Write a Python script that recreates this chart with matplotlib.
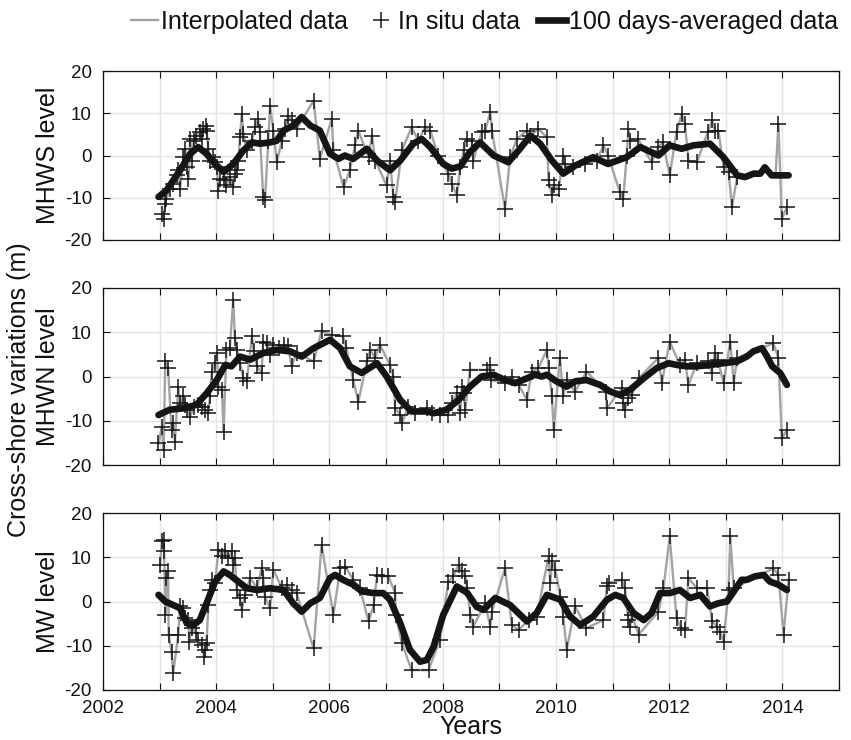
import matplotlib
matplotlib.use('Agg')
import matplotlib.pyplot as plt
from matplotlib.lines import Line2D

plt.rcParams['font.family'] = ['Liberation Sans', 'DejaVu Sans']

# ---------------- MHWS level ----------------
mhws_t = [2003.04, 2003.07, 2003.10, 2003.12, 2003.18, 2003.24, 2003.30, 2003.33, 2003.36, 2003.42,
          2003.45, 2003.48, 2003.51, 2003.54, 2003.57, 2003.60, 2003.65, 2003.71, 2003.74, 2003.77,
          2003.82, 2003.83, 2003.86, 2003.89, 2003.95, 2003.98, 2004.01, 2004.04, 2004.07, 2004.13,
          2004.18, 2004.24, 2004.30, 2004.33, 2004.36, 2004.39, 2004.42, 2004.45, 2004.48, 2004.54,
          2004.63, 2004.69, 2004.74, 2004.77, 2004.83, 2004.86, 2004.92, 2004.95, 2005.01, 2005.07,
          2005.16, 2005.22, 2005.27, 2005.33, 2005.42, 2005.72, 2005.83, 2006.04, 2006.07, 2006.25,
          2006.36, 2006.45, 2006.51, 2006.69, 2006.75, 2006.81, 2007.01, 2007.07, 2007.13, 2007.16,
          2007.28, 2007.45, 2007.57, 2007.69, 2007.78, 2007.92, 2008.10, 2008.16, 2008.25, 2008.31,
          2008.37, 2008.43, 2008.51, 2008.54, 2008.69, 2008.75, 2008.84, 2008.87, 2009.10, 2009.19,
          2009.31, 2009.49, 2009.55, 2009.69, 2009.84, 2009.87, 2009.93, 2009.96, 2010.05, 2010.13,
          2010.16, 2010.31, 2010.52, 2010.72, 2010.84, 2010.92, 2011.13, 2011.19, 2011.25, 2011.28,
          2011.31, 2011.45, 2011.69, 2011.81, 2011.89, 2012.01, 2012.13, 2012.22, 2012.28, 2012.34,
          2012.49, 2012.68, 2012.76, 2012.81, 2012.87, 2012.96, 2013.05, 2013.11, 2013.20, 2013.93,
          2013.99, 2014.08]
mhws_v = [-13.8, -15.0, -11.4, -10.2, -7.9, -6.7, -4.7, -3.5, -7.9, -0.4,
          1.6, -2.8, -5.5, 3.9, -1.2, 3.5, 4.7, 5.5, 3.9, 6.3,
          7.1, 5.9, 1.6, -1.2, -0.4, -1.6, -2.8, -8.3, -5.5, -5.9,
          -7.1, -5.1, -7.5, -4.3, -3.5, -1.2, 4.3, 9.8, 5.1, 1.2,
          3.5, 6.7, 8.7, 5.5, -9.8, -10.6, 3.5, 11.8, 5.9, -1.6,
          3.5, 6.3, 9.4, 8.3, 6.3, 13.0, -0.8, 8.7, 1.2, -7.5,
          -3.5, 2.4, 5.9, -0.4, 4.7, -1.2, -7.1, -1.2, -9.8, -11.0,
          1.2, 6.7, 3.5, 6.7, 5.9, 0.0, -4.3, -6.7, -9.4, -2.8,
          1.2, 3.9, 3.5, -1.2, 5.5, 5.9, 10.2, 5.9, -12.6, -0.4,
          3.9, 5.9, 4.7, 6.3, 4.3, -5.9, -9.4, -7.1, -7.9, 0.0,
          -2.0, -2.8, -2.0, -1.2, 2.4, 0.0, -8.7, -10.2, 0.0, 6.3,
          3.5, 3.9, -1.6, 2.0, 3.1, -4.7, 5.5, 9.8, 7.5, -1.2,
          -1.6, 5.5, 8.3, 5.9, 5.9, -2.8, -3.9, -12.2, -5.1, 7.5,
          -15.0, -12.2]
mhws_gap_t = [2013.45, 2013.70, 2013.88]
mhws_gap_v = [-4.5, -3.8, -4.5]
mhws_avg_t = [2002.98, 2003.12, 2003.36, 2003.54, 2003.68, 2003.83, 2003.98, 2004.13, 2004.30, 2004.48,
              2004.63, 2004.77, 2004.95, 2005.07, 2005.19, 2005.36, 2005.51, 2005.66, 2005.83, 2006.01,
              2006.16, 2006.27, 2006.42, 2006.66, 2006.84, 2007.07, 2007.25, 2007.48, 2007.63, 2007.78,
              2008.01, 2008.16, 2008.31, 2008.48, 2008.66, 2008.90, 2009.16, 2009.34, 2009.55, 2009.72,
              2009.93, 2010.13, 2010.34, 2010.66, 2010.92, 2011.25, 2011.49, 2011.81, 2012.01, 2012.22,
              2012.43, 2012.72, 2012.96, 2013.20, 2013.34, 2013.49, 2013.61, 2013.69, 2013.81, 2014.11]
mhws_avg_v = [-9.8, -8.3, -3.5, 0.4, 2.0, 0.4, -2.0, -3.9, -2.0, 1.2,
              3.1, 2.8, 3.1, 3.5, 5.9, 7.1, 9.1, 7.1, 5.9, 0.4,
              -0.8, 0.0, -0.8, 1.6, -1.2, -3.5, -1.2, 2.8, 3.9, 2.0,
              -2.0, -3.1, -2.6, 0.8, 3.1, 0.0, -1.6, 1.2, 4.7, 2.8,
              -1.2, -4.3, -2.4, -0.4, -2.0, -0.4, 2.0, 0.0, 2.4, 1.6,
              2.4, 2.8, -0.4, -4.7, -5.1, -4.3, -4.3, -2.8, -4.7, -4.7]

# ---------------- MHWN level ----------------
mhwn_t = [2002.98, 2003.04, 2003.07, 2003.10, 2003.15, 2003.21, 2003.24, 2003.27, 2003.33, 2003.36,
          2003.42, 2003.45, 2003.48, 2003.54, 2003.60, 2003.68, 2003.74, 2003.80, 2003.86, 2003.89,
          2003.92, 2003.98, 2004.01, 2004.04, 2004.10, 2004.13, 2004.18, 2004.24, 2004.30, 2004.33,
          2004.36, 2004.42, 2004.48, 2004.54, 2004.63, 2004.66, 2004.72, 2004.80, 2004.83, 2004.89,
          2004.95, 2005.01, 2005.10, 2005.19, 2005.27, 2005.33, 2005.42, 2005.72, 2005.86, 2006.04,
          2006.24, 2006.30, 2006.42, 2006.51, 2006.66, 2006.72, 2006.81, 2006.89, 2007.07, 2007.13,
          2007.16, 2007.25, 2007.28, 2007.39, 2007.51, 2007.72, 2007.81, 2007.95, 2008.10, 2008.16,
          2008.25, 2008.31, 2008.34, 2008.37, 2008.40, 2008.48, 2008.78, 2008.84, 2008.86, 2009.10,
          2009.22, 2009.34, 2009.49, 2009.57, 2009.69, 2009.84, 2009.87, 2009.93, 2009.96, 2010.07,
          2010.13, 2010.19, 2010.34, 2010.54, 2010.88, 2010.90, 2011.16, 2011.19, 2011.22, 2011.28,
          2011.34, 2011.46, 2011.81, 2011.87, 2012.01, 2012.19, 2012.28, 2012.34, 2012.49, 2012.69,
          2012.75, 2012.81, 2012.86, 2012.96, 2013.08, 2013.14, 2013.20, 2013.84, 2013.93, 2013.99,
          2014.08]
mhwn_v = [-15.1, -11.3, -16.6, 3.4, 1.9, -12.1, -10.6, -14.7, -2.3, -6.0,
          -4.5, -6.4, -7.5, -9.1, -6.8, -6.4, -6.8, -7.5, -8.3, -4.5,
          1.1, 3.0, 5.3, -2.3, -3.0, -12.5, 6.0, 6.4, 17.4, 8.7,
          6.0, 3.0, -0.4, -1.1, 9.1, 5.7, 2.3, 0.8, 7.9, 7.5,
          4.9, 7.2, 6.4, 7.2, 6.8, 2.3, 5.3, 3.4, 10.2, 9.4,
          9.1, 6.4, -0.8, -5.7, 3.4, 6.0, 4.2, 7.2, 2.6, 0.0,
          -7.2, -8.7, -10.6, -6.8, -8.3, -7.2, -8.3, -8.7, -8.7, -6.0,
          -3.8, -8.3, -2.3, -3.8, -7.5, 1.5, 1.5, 2.6, -0.8, -1.5,
          0.0, -1.9, -5.3, 1.1, 1.9, 6.0, 1.9, -4.5, -12.1, 4.2,
          -4.5, -0.8, -3.4, 1.1, -3.4, -7.2, -2.6, -6.0, -7.5, -4.9,
          -4.2, -0.4, 4.2, -1.5, 7.9, 2.6, 3.8, -1.9, 3.0, 3.4,
          0.8, 5.3, 3.8, -1.5, 7.9, -1.5, 4.2, 7.5, 4.2, -14.0,
          -12.1]
mhwn_avg_t = [2002.98, 2003.18, 2003.42, 2003.65, 2003.83, 2004.01, 2004.16, 2004.27, 2004.42, 2004.60,
              2004.83, 2005.07, 2005.30, 2005.51, 2005.72, 2006.01, 2006.19, 2006.36, 2006.57, 2006.84,
              2007.01, 2007.25, 2007.45, 2007.72, 2007.84, 2008.07, 2008.28, 2008.48, 2008.69, 2008.90,
              2009.10, 2009.28, 2009.49, 2009.63, 2009.75, 2009.84, 2010.01, 2010.19, 2010.34, 2010.54,
              2010.78, 2010.96, 2011.13, 2011.31, 2011.55, 2011.78, 2011.99, 2012.14, 2012.31, 2012.49,
              2012.72, 2012.96, 2013.20, 2013.37, 2013.49, 2013.64, 2013.73, 2013.82, 2013.96, 2014.08]
mhwn_avg_v = [-8.7, -7.5, -7.2, -6.4, -3.8, -0.8, 2.6, 2.3, 4.5, 3.8,
              5.3, 6.0, 5.7, 4.5, 6.4, 8.3, 6.4, 2.3, 0.8, 3.0,
              0.0, -5.3, -7.9, -7.9, -8.3, -7.5, -5.3, -2.3, 0.0, 0.4,
              -0.8, -1.5, -0.4, 0.4, 0.0, 0.4, -1.1, -2.3, -1.1, -0.8,
              -1.9, -3.4, -4.2, -3.0, -0.4, 1.9, 3.0, 2.6, 2.3, 2.3,
              2.6, 3.0, 3.4, 4.5, 5.7, 6.4, 4.5, 2.3, 0.8, -1.9]

# ---------------- MW level ----------------
mw_t = [2003.01, 2003.04, 2003.07, 2003.08, 2003.10, 2003.12, 2003.15, 2003.16, 2003.21, 2003.24,
        2003.33, 2003.36, 2003.42, 2003.45, 2003.51, 2003.52, 2003.57, 2003.65, 2003.68, 2003.74,
        2003.79, 2003.80, 2003.83, 2003.86, 2003.89, 2003.92, 2003.98, 2004.04, 2004.10, 2004.16,
        2004.21, 2004.27, 2004.30, 2004.33, 2004.36, 2004.42, 2004.45, 2004.51, 2004.60, 2004.72,
        2004.80, 2004.83, 2004.86, 2004.95, 2005.01, 2005.16, 2005.25, 2005.33, 2005.42, 2005.72,
        2005.86, 2006.07, 2006.19, 2006.28, 2006.42, 2006.54, 2006.69, 2006.78, 2006.84, 2006.92,
        2007.04, 2007.16, 2007.17, 2007.28, 2007.45, 2007.75, 2007.95, 2008.10, 2008.19, 2008.28,
        2008.34, 2008.40, 2008.43, 2008.49, 2008.54, 2008.75, 2008.84, 2008.87, 2009.10, 2009.22,
        2009.34, 2009.52, 2009.66, 2009.87, 2009.90, 2009.93, 2009.99, 2010.08, 2010.13, 2010.19,
        2010.34, 2010.54, 2010.84, 2010.90, 2010.93, 2011.16, 2011.22, 2011.28, 2011.31, 2011.34,
        2011.46, 2011.81, 2011.90, 2012.01, 2012.13, 2012.21, 2012.28, 2012.34, 2012.49, 2012.67,
        2012.76, 2012.85, 2012.90, 2012.96, 2013.05, 2013.08, 2013.14, 2013.84, 2013.93, 2014.02,
        2014.11]
mw_v = [8.3, 13.6, 14.0, 11.3, -3.0, 5.3, 6.8, -7.5, -11.3, -16.2,
        -7.5, -1.1, -1.5, -3.8, -4.2, -9.1, -6.0, -7.2, -8.7, -9.8,
        -12.5, -10.9, -9.4, -0.8, 2.6, 4.9, 4.2, 11.7, 10.2, 11.3,
        9.8, 11.3, 8.3, 9.8, 2.6, 0.8, -1.9, 1.5, 5.3, 3.0,
        7.5, 5.3, 1.1, -1.5, 7.2, 3.0, 3.8, 2.6, 1.9, -10.6,
        12.8, -3.0, 7.5, 7.9, 4.9, 3.0, -4.5, -0.8, 6.0, 5.7,
        5.7, 1.9, -3.0, -9.4, -15.5, -15.5, -8.7, 4.5, 5.7, 8.3,
        6.8, 5.7, 3.0, -3.0, -5.7, -0.4, -5.7, -2.3, 7.5, -5.3,
        -6.4, -4.2, -3.4, 10.2, 4.2, 9.1, 7.2, 1.1, -3.4, -10.9,
        -1.1, -6.0, -4.2, 3.4, 4.2, 4.9, 3.0, -4.2, -5.7, -3.0,
        -7.5, -2.3, 3.0, 14.7, -3.8, -6.0, -6.4, 5.3, 3.0, 3.0,
        -4.5, -5.7, -6.8, -9.1, 2.6, 14.7, 3.0, 7.5, 6.0, -7.5,
        4.9]
mw_avg_t = [2002.98, 2003.10, 2003.24, 2003.36, 2003.48, 2003.60, 2003.71, 2003.83, 2003.98, 2004.13,
            2004.24, 2004.39, 2004.54, 2004.72, 2004.95, 2005.19, 2005.36, 2005.51, 2005.66, 2005.83,
            2006.01, 2006.10, 2006.24, 2006.42, 2006.57, 2006.78, 2006.95, 2007.07, 2007.25, 2007.42,
            2007.60, 2007.72, 2007.84, 2008.01, 2008.25, 2008.43, 2008.60, 2008.72, 2008.93, 2009.19,
            2009.49, 2009.66, 2009.84, 2010.08, 2010.25, 2010.43, 2010.66, 2010.90, 2011.05, 2011.19,
            2011.37, 2011.55, 2011.69, 2011.84, 2012.01, 2012.19, 2012.37, 2012.55, 2012.72, 2012.87,
            2013.02, 2013.16, 2013.28, 2013.37, 2013.52, 2013.67, 2013.78, 2013.93, 2014.08]
mw_avg_v = [1.5, 0.0, -0.8, -1.5, -4.9, -5.3, -4.2, -0.4, 4.5, 6.8,
            6.0, 4.5, 3.0, 2.6, 3.0, 2.6, -0.4, -2.3, -0.4, 0.8,
            5.3, 6.0, 4.9, 3.8, 2.3, 1.9, 1.9, 0.4, -4.9, -10.9,
            -13.6, -13.2, -10.2, -3.0, 3.4, 2.0, -1.2, -1.9, 0.8, -0.8,
            -4.5, -2.6, 1.5, 0.4, -3.4, -5.3, -3.4, 0.4, 1.5, 0.8,
            -2.6, -4.2, -2.6, 1.9, 1.9, 2.6, 0.8, 1.5, -1.1, -0.4,
            0.0, 2.6, 4.9, 4.9, 5.7, 6.0, 4.5, 3.8, 2.6]

panel_labels = ['MHWS level', 'MHWN level', 'MW level']
year_ticks = list(range(2002, 2016))
y_ticks = [-20, -10, 0, 10, 20]
legend_labels = ['Interpolated data', 'In situ data', '100 days-averaged data']

W, H = 851, 740
fig = plt.figure(figsize=(W / 100, H / 100), dpi=100)
rows = [(71, 240), (288, 465), (513, 690)]

series = [
    (mhws_t, mhws_v, mhws_gap_t, mhws_gap_v, mhws_avg_t, mhws_avg_v),
    (mhwn_t, mhwn_v, [], [], mhwn_avg_t, mhwn_avg_v),
    (mw_t, mw_v, [], [], mw_avg_t, mw_avg_v),
]

GRAY = '#a3a3a3'
BLACK = '#151515'

for i, ((top, bot), (t, v, gt, gv, at, av)) in enumerate(zip(rows, series)):
    ax = fig.add_axes([103 / W, 1 - bot / H, (839 - 103) / W, (bot - top) / H])
    pts = sorted(list(zip(t, v)) + list(zip(gt, gv)))
    ax.plot([p[0] for p in pts], [p[1] for p in pts], color=GRAY, lw=1.7, zorder=2)
    ax.plot(t, v, linestyle='none', marker='+', color=BLACK, ms=11, mew=1.1, zorder=3)
    ax.plot(at, av, color=BLACK, lw=4.8, solid_joinstyle='round', solid_capstyle='round', zorder=4)
    ax.set_xlim(2002, 2015)
    ax.set_ylim(-20, 20)
    ax.set_xticks(year_ticks)
    if i == 2:
        ax.set_xticklabels([str(y) if y % 2 == 0 else '' for y in year_ticks])
    else:
        ax.set_xticklabels([])
    ax.set_yticks(y_ticks)
    ax.set_yticklabels([str(y) for y in y_ticks])
    ax.grid(True, color='#e4e4e4', lw=1.0)
    ax.set_axisbelow(True)
    ax.tick_params(direction='in', top=True, right=True, length=5, width=0.8,
                   labelsize=13.5, colors='#111111')
    ax.tick_params(axis='x', pad=7)
    ax.tick_params(axis='y', pad=8)
    for s in ax.spines.values():
        s.set_linewidth(0.9)
        s.set_color('#111111')
    fig.text(48 / W, 1 - ((top + bot) / 2) / H, panel_labels[i], rotation=90,
             ha='center', va='center', fontsize=18, color='#111111')

fig.text(19 / W, 1 - 390 / H, 'Cross-shore variations (m)', rotation=90,
         ha='center', va='center', fontsize=18, color='#111111')
fig.text(471 / W, 1 - 734 / H, 'Years', ha='center', va='baseline', fontsize=18, color='#111111')

handles = [Line2D([], [], color=GRAY, lw=1.7),
           Line2D([], [], linestyle='none', marker='+', color=BLACK, ms=11, mew=1.1),
           Line2D([], [], color=BLACK, lw=4.8)]
fig.legend(handles, legend_labels, loc='center right', bbox_to_anchor=(838 / W, 1 - 22 / H),
           ncol=3, frameon=False, fontsize=18, handlelength=1.1, handletextpad=0.12,
           columnspacing=0.75, borderpad=0, borderaxespad=0, labelcolor='#111111')

fig.savefig('out.png', dpi=100)
